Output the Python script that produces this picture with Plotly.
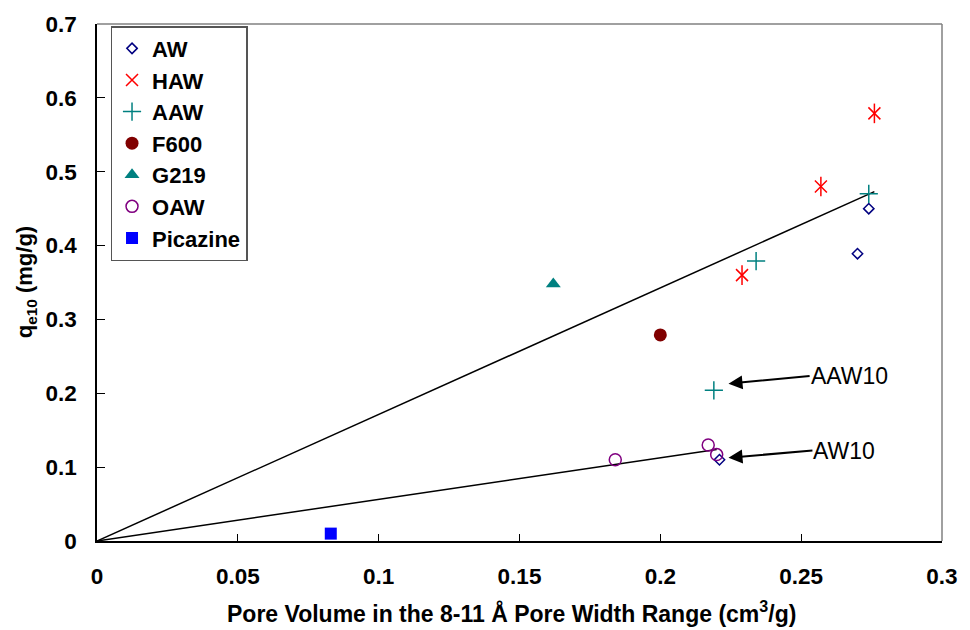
import plotly.graph_objects as go

# ---- data -------------------------------------------------------------
aw_x = [0.274, 0.270, 0.221]
aw_y = [0.450, 0.389, 0.110]

haw_x = [0.276, 0.257, 0.229]
haw_y = [0.579, 0.480, 0.360]

aaw_x = [0.274, 0.234, 0.219]
aaw_y = [0.470, 0.379, 0.204]

f600_x = [0.200]
f600_y = [0.279]

g219_x = [0.162]
g219_y = [0.348]

oaw_x = [0.184, 0.217, 0.220]
oaw_y = [0.110, 0.130, 0.117]

picazine_x = [0.083]
picazine_y = [0.010]

# trend lines through the origin
upper_line_x = [0.0, 0.276]
upper_line_y = [0.0, 0.473]
lower_line_x = [0.0, 0.220]
lower_line_y = [0.0, 0.124]

x_ticks = [0, 0.05, 0.1, 0.15, 0.2, 0.25, 0.3]
y_ticks = [0, 0.1, 0.2, 0.3, 0.4, 0.5, 0.6, 0.7]

FONT = "Arial, 'Liberation Sans', sans-serif"

fig = go.Figure()

# trend lines
for lx, ly in [(upper_line_x, upper_line_y), (lower_line_x, lower_line_y)]:
    fig.add_trace(go.Scatter(x=lx, y=ly, mode="lines",
                             line=dict(color="black", width=1.5),
                             showlegend=False, hoverinfo="skip"))

fig.add_trace(go.Scatter(x=aw_x, y=aw_y, mode="markers", name="AW", legendgroup="AW",
                         marker=dict(symbol="diamond-open", size=8, color="#000080",
                                     line=dict(width=1.5, color="#000080"))))
fig.add_trace(go.Scatter(x=haw_x, y=haw_y, mode="markers", name="HAW", legendgroup="HAW",
                         marker=dict(symbol="x-thin-open", size=12, color="#FF0000",
                                     line=dict(width=1.5, color="#FF0000"))))
fig.add_trace(go.Scatter(x=haw_x, y=haw_y, mode="markers", name="HAW", legendgroup="HAW",
                         showlegend=False,
                         marker=dict(symbol="line-ns-open", size=14, color="#FF0000",
                                     line=dict(width=1.5, color="#FF0000"))))
fig.add_trace(go.Scatter(x=aaw_x, y=aaw_y, mode="markers", name="AAW", legendgroup="AAW",
                         marker=dict(symbol="cross-thin-open", size=13, color="#008080",
                                     line=dict(width=1.5, color="#008080"))))
fig.add_trace(go.Scatter(x=f600_x, y=f600_y, mode="markers", name="F600", legendgroup="F600",
                         marker=dict(symbol="circle", size=13, color="#800000")))
fig.add_trace(go.Scatter(x=g219_x, y=g219_y, mode="markers", name="G219", legendgroup="G219",
                         marker=dict(symbol="triangle-up", size=13, color="#008080")))
fig.add_trace(go.Scatter(x=oaw_x, y=oaw_y, mode="markers", name="OAW", legendgroup="OAW",
                         marker=dict(symbol="circle-open", size=12, color="#800080",
                                     line=dict(width=1.5, color="#800080"))))
fig.add_trace(go.Scatter(x=picazine_x, y=picazine_y, mode="markers", name="Picazine",
                         legendgroup="Picazine",
                         marker=dict(symbol="square", size=12, color="#0000FF")))

axis_common = dict(showgrid=False, zeroline=False, showline=True, linecolor="black",
                   linewidth=1.5, ticks="inside", tickcolor="black", tickwidth=1,
                   tickfont=dict(family=FONT, size=22.5, color="black", weight="bold"))

fig.update_xaxes(range=[0, 0.3], tickvals=x_ticks, ticklen=7,
                 ticklabelstandoff=14, **axis_common)
fig.update_yaxes(range=[0, 0.7], tickvals=y_ticks, ticklen=8,
                 ticklabelstandoff=14, **axis_common)

annotations = [
    # axis titles
    dict(text="Pore Volume in the 8-11 Å Pore Width Range (cm<sup>3</sup>/g)",
         xref="paper", yref="paper", x=0.4906, y=-0.1375, xanchor="center",
         yanchor="middle", showarrow=False,
         font=dict(family=FONT, size=23, color="black", weight="bold")),
    dict(text="q<sub>e10</sub> (mg/g)", xref="paper", yref="paper", x=-0.0843, y=0.5,
         xanchor="center", yanchor="middle", textangle=-90, showarrow=False,
         font=dict(family=FONT, size=22, color="black", weight="bold")),
    # callouts with arrows pointing at the 10-series points
    dict(text="AAW10", xref="x", yref="y", x=0.2242, y=0.213, axref="x", ayref="y",
         ax=0.2530, ay=0.2234, xanchor="left", yanchor="middle",
         showarrow=True, arrowhead=2, arrowsize=1.4, arrowwidth=2,
         arrowcolor="black", standoff=0, borderpad=0,
         font=dict(family=FONT, size=23, color="black")),
    dict(text="AW10", xref="x", yref="y", x=0.2242, y=0.1127, axref="x", ayref="y",
         ax=0.2540, ay=0.1225, xanchor="left", yanchor="middle",
         showarrow=True, arrowhead=2, arrowsize=1.4, arrowwidth=2,
         arrowcolor="black", standoff=0, borderpad=0,
         font=dict(family=FONT, size=23, color="black")),
]

shapes = [
    dict(type="line", xref="paper", yref="paper", x0=0, x1=1, y0=1, y1=1,
         line=dict(color="#808080", width=1.5)),
    dict(type="line", xref="paper", yref="paper", x0=1, x1=1, y0=0, y1=1,
         line=dict(color="#808080", width=1.5)),
]

fig.update_layout(
    width=970, height=630,
    margin=dict(l=97, r=19, t=21, b=89),
    paper_bgcolor="white", plot_bgcolor="white",
    font=dict(family=FONT, color="black"),
    showlegend=True,
    legend=dict(x=0.016, y=0.996, xanchor="left", yanchor="top",
                bgcolor="white", bordercolor="#555555", borderwidth=1.5,
                font=dict(family=FONT, size=22, color="black", weight="bold"),
                tracegroupgap=0, itemwidth=30),
    annotations=annotations,
    shapes=shapes,
)

fig.write_html("out.html")
